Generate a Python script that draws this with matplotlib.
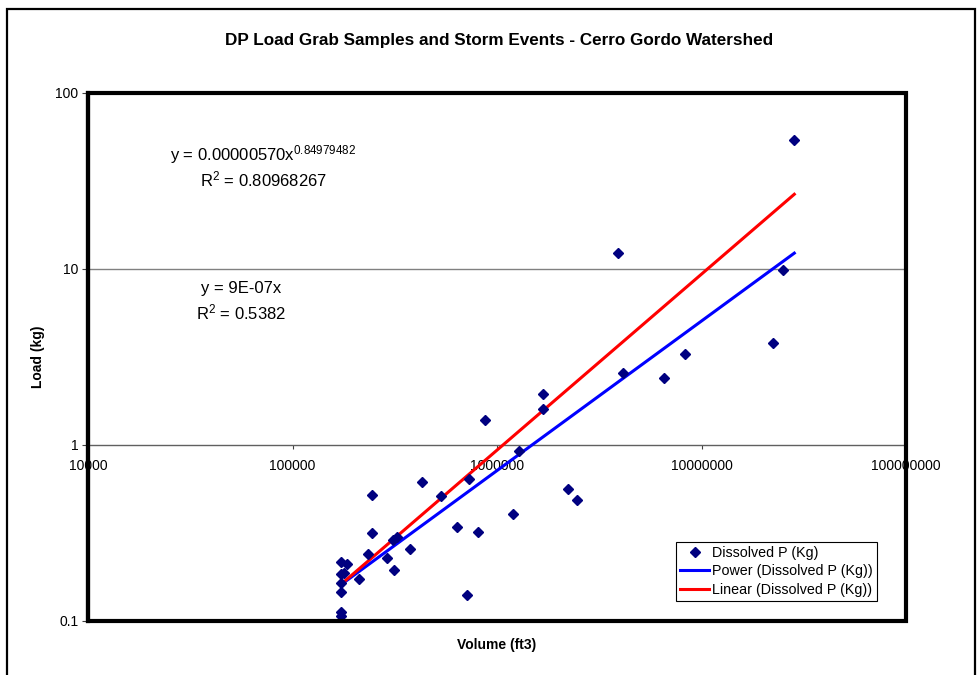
import numpy as np
import matplotlib
matplotlib.use("Agg")
import matplotlib.pyplot as plt
from matplotlib.patches import Rectangle
from matplotlib.ticker import FixedLocator, FuncFormatter, NullLocator

plt.rcParams['font.family'] = ['Liberation Sans', 'DejaVu Sans']
plt.rcParams['mathtext.fontset'] = 'custom'
plt.rcParams['mathtext.rm'] = 'Liberation Sans'
plt.rcParams['mathtext.it'] = 'Liberation Sans:italic'

# grab samples and storm events
volume_ft3 = [172000, 184100, 179200, 172000, 212100, 172000, 172000, 715800,
              173200, 172000, 234800, 289900, 312500, 376700, 323200, 311100,
              243900, 810000, 635300, 1201000, 2462000, 2217000, 245600, 530500,
              429800, 729600, 1286000, 876500, 1673000, 1673000, 4131000, 6555000,
              8333000, 22450000, 25030000, 28430000, 3893000]
load_kg = [0.215, 0.212, 0.188, 0.186, 0.1735, 0.1647, 0.146, 0.1408,
           0.1127, 0.1066, 0.240, 0.228, 0.194, 0.256, 0.300, 0.288,
           0.317, 0.319, 0.342, 0.406, 0.487, 0.562, 0.520, 0.511,
           0.619, 0.638, 0.92, 1.385, 1.60, 1.94, 2.56, 2.40,
           3.30, 3.82, 9.9, 54.3, 12.3]

# trendline coefficients as shown on the chart
power_a = 0.00000570
power_b = 0.84979482
power_r2 = 0.80968267
linear_m = 9.35e-07
linear_r2 = 0.5382

x_ticks = [1e4, 1e5, 1e6, 1e7, 1e8]
y_ticks = [0.1, 1, 10, 100]

W, H = 979, 675


def fx(px):
    return px / W


def fy(py):
    return 1 - py / H


fig = plt.figure(figsize=(W / 100, H / 100), dpi=100)
fig.patches.append(Rectangle((fx(7), fy(680)), fx(975) - fx(7), fy(9) - fy(680),
                             transform=fig.transFigure, fill=False,
                             edgecolor='black', linewidth=1.6))

ax = fig.add_axes([fx(88), fy(621), fx(906) - fx(88), fy(93) - fy(621)])
ax.set_xscale('log')
ax.set_yscale('log')
ax.set_xlim(1e4, 1e8)
ax.set_ylim(0.1, 100)

x = np.array(volume_ft3, dtype=float)
y = np.array(load_kg, dtype=float)
xs = np.geomspace(x.min(), x.max(), 200)

ax.plot(x, y, linestyle='none', marker='D', markersize=5.4, color='#000080',
        label='Dissolved P (Kg)', zorder=4)
ax.plot(xs, power_a * xs ** power_b, color='#0000FF', linewidth=2.2,
        label='Power (Dissolved P (Kg))', zorder=3)
ax.plot(xs, linear_m * xs, color='#FF0000', linewidth=2.2,
        label='Linear (Dissolved P (Kg))', zorder=3)

# horizontal gridline at 10, x axis crosses at 1
ax.axhline(10, color='#808080', linewidth=1.0, zorder=1)
for s in ['top', 'right']:
    ax.spines[s].set_visible(False)
ax.spines['left'].set_linewidth(3)
ax.spines['bottom'].set_position(('data', 1))
ax.spines['bottom'].set_linewidth(1.0)
ax.spines['bottom'].set_color('#606060')
ax.add_patch(Rectangle((0, 0), 1, 1, transform=ax.transAxes, fill=False,
                       edgecolor='black', linewidth=3, zorder=5, clip_on=False))

ax.xaxis.set_major_locator(FixedLocator(x_ticks))
ax.yaxis.set_major_locator(FixedLocator(y_ticks))
ax.xaxis.set_minor_locator(NullLocator())
ax.yaxis.set_minor_locator(NullLocator())
ax.xaxis.set_major_formatter(FuncFormatter(lambda v, p: f"{v:.0f}"))
ax.yaxis.set_major_formatter(FuncFormatter(lambda v, p: f"{v:g}"))
ax.tick_params(axis='x', direction='out', length=3, width=0.8, pad=7,
               labelsize=10, color='#404040')
ax.tick_params(axis='y', direction='out', length=4, width=0.8, pad=3,
               labelsize=10, color='#404040')

fig.text(fx(499), fy(40), 'DP Load Grab Samples and Storm Events - Cerro Gordo Watershed',
         ha='center', va='center', fontsize=12.3, fontweight='bold')
fig.text(fx(38), fy(357), 'Load (kg)', ha='center', va='center', rotation=90,
         fontsize=10, fontweight='bold')
fig.text(fx(497), fy(645), 'Volume (ft3)', ha='center', va='center',
         fontsize=10, fontweight='bold')

# trendline labels
fig.text(fx(263), fy(155), f"y = {power_a:.8f}x$^{{{power_b:.8f}}}$",
         ha='center', va='center', fontsize=12)
fig.text(fx(263), fy(179), f"R$^2$ = {power_r2:.8f}", ha='center', va='center',
         fontsize=12)
fig.text(fx(241), fy(288), "y = 9E-07x", ha='center', va='center', fontsize=12)
fig.text(fx(241), fy(312), f"R$^2$ = {linear_r2}", ha='center', va='center',
         fontsize=12)

leg = ax.legend(loc='lower right', bbox_to_anchor=(fx(877), fy(601)),
                bbox_transform=fig.transFigure, fontsize=10.3, frameon=True,
                fancybox=False, framealpha=1, edgecolor='black',
                handlelength=2.0, handletextpad=0.2, borderpad=0.3,
                labelspacing=0.3, borderaxespad=0)
leg.get_frame().set_linewidth(0.8)
leg.set_zorder(6)

fig.savefig('out.png', dpi=100)
